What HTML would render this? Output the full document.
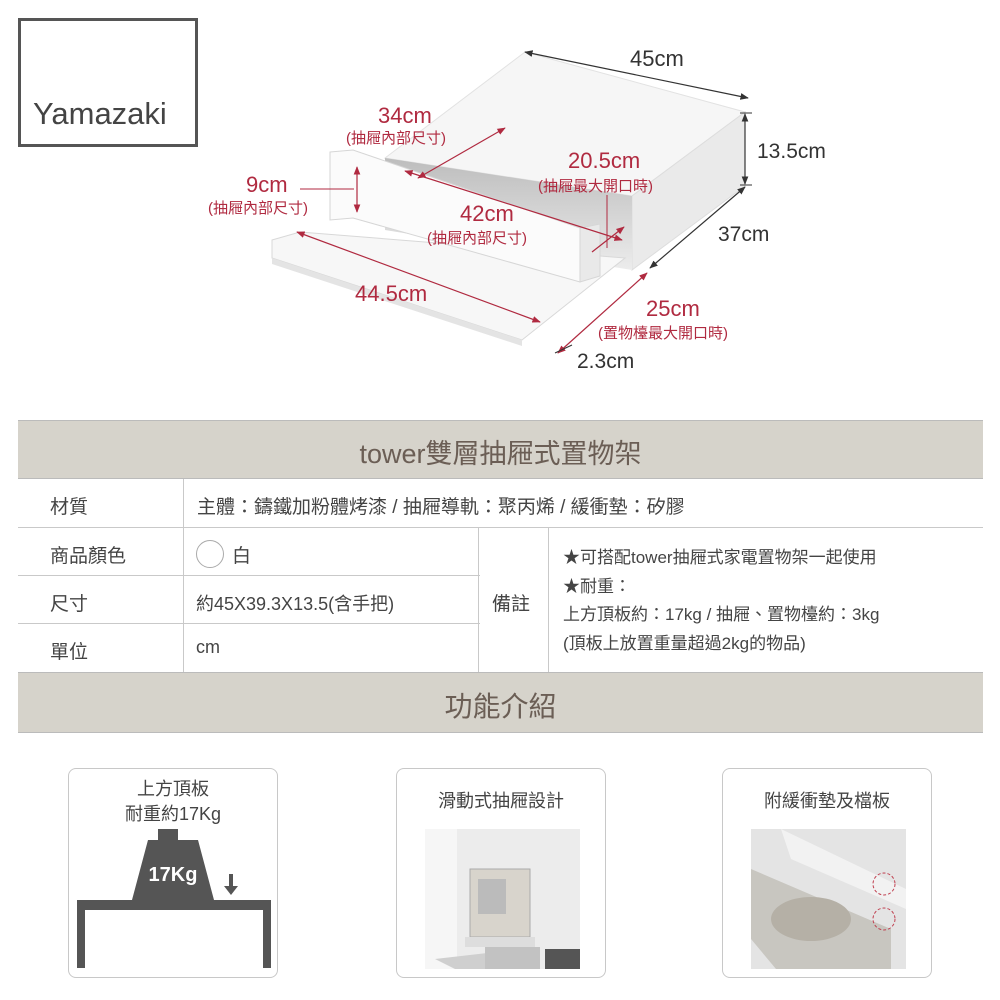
<!DOCTYPE html>
<html><head><meta charset="utf-8"><style>
*{margin:0;padding:0;box-sizing:border-box}
body{width:1000px;height:1000px;background:#fff;position:relative;overflow:hidden;font-family:"Liberation Sans","Noto Sans CJK TC",sans-serif;color:#444}
.a{position:absolute;white-space:nowrap}
.r{color:#b02a40}
.hl{position:absolute;background:#c9c9c9;height:1px}
.vl{position:absolute;background:#c9c9c9;width:1px}
.card{position:absolute;border:1px solid #c8c8c8;border-radius:8px;width:210px;height:210px;top:768px}
.ct{position:absolute;width:100%;text-align:center;font-size:18px;color:#444;line-height:25px}
</style></head><body>
<div class="a" style="left:18px;top:18px;width:180px;height:129px;border:3px solid #555"></div>
<div class="a" style="left:33px;top:96px;font-size:31px;color:#444">Yamazaki</div>

<svg class="a" style="left:0;top:0" width="1000" height="400">
<defs><marker id="ar" viewBox="0 0 10 10" refX="9" refY="5" markerWidth="7" markerHeight="7" orient="auto-start-reverse"><path d="M0,1 L10,5 L0,9 z" fill="#b02a40"/></marker>
<marker id="ak" viewBox="0 0 10 10" refX="9" refY="5" markerWidth="7" markerHeight="7" orient="auto-start-reverse"><path d="M0,1 L10,5 L0,9 z" fill="#333"/></marker>
<linearGradient id="g" x1="0" y1="0" x2="0" y2="1"><stop offset="0" stop-color="#bdbdbd"/><stop offset="1" stop-color="#ececec"/></linearGradient></defs>
<polygon points="525,52 745,112 632,196 385,158" fill="#f6f6f6" stroke="#e2e2e2"/>
<polygon points="745,112 745,186 632,270 632,196" fill="#eaeaea" stroke="#ddd"/>
<polygon points="385,158 632,196 632,270 385,230" fill="url(#g)"/>
<polygon points="272,240 300,232 625,258 522,340 272,258" fill="#f7f7f7" stroke="#d8d8d8"/>
<polygon points="272,258 522,340 522,346 272,264" fill="#e4e4e4"/>
<polygon points="330,152 353,150 580,228 580,282 353,218 330,220" fill="#fbfbfb" stroke="#d6d6d6"/>
<polygon points="580,228 600,224 600,276 580,282" fill="#e9e9e9" stroke="#d6d6d6"/>
<line x1="525" y1="52" x2="748" y2="98" stroke="#333" stroke-width="1.2" marker-start="url(#ak)" marker-end="url(#ak)"/>
<line x1="745" y1="114" x2="745" y2="184" stroke="#333" stroke-width="1.2" marker-start="url(#ak)" marker-end="url(#ak)"/>
<line x1="740" y1="113" x2="752" y2="113" stroke="#333"/><line x1="740" y1="185" x2="752" y2="185" stroke="#333"/>
<line x1="745" y1="187" x2="650" y2="268" stroke="#333" stroke-width="1.2" marker-start="url(#ak)" marker-end="url(#ak)"/>
<line x1="647" y1="273" x2="558" y2="353" stroke="#b02a40" stroke-width="1.2" marker-start="url(#ar)" marker-end="url(#ar)"/>
<line x1="555" y1="353" x2="572" y2="345" stroke="#333"/>
<line x1="418" y1="178" x2="505" y2="128" stroke="#b02a40" stroke-width="1.2" marker-start="url(#ar)" marker-end="url(#ar)"/>
<line x1="357" y1="167" x2="357" y2="212" stroke="#b02a40" stroke-width="1.2" marker-start="url(#ar)" marker-end="url(#ar)"/>
<line x1="300" y1="189" x2="354" y2="189" stroke="#b02a40" stroke-width="1"/>
<line x1="405" y1="171" x2="622" y2="240" stroke="#b02a40" stroke-width="1.2" marker-start="url(#ar)" marker-end="url(#ar)"/>
<line x1="607" y1="195" x2="607" y2="248" stroke="#b02a40" stroke-width="1"/>
<line x1="592" y1="252" x2="624" y2="227" stroke="#b02a40" stroke-width="1.2" marker-end="url(#ar)"/>
<line x1="297" y1="232" x2="540" y2="322" stroke="#b02a40" stroke-width="1.2" marker-start="url(#ar)" marker-end="url(#ar)"/>
</svg>
<div class="a" style="left:630px;top:46px;font-size:22px;color:#333">45cm</div>
<div class="a" style="left:757px;top:140px;font-size:21px;color:#333">13.5cm</div>
<div class="a" style="left:718px;top:223px;font-size:21px;color:#333">37cm</div>
<div class="a" style="left:577px;top:350px;font-size:21px;color:#333">2.3cm</div>
<div class="a r" style="left:378px;top:103px;font-size:22px">34cm</div>
<div class="a r" style="left:346px;top:127px;font-size:15px">(抽屜內部尺寸)</div>
<div class="a r" style="left:246px;top:172px;font-size:22px">9cm</div>
<div class="a r" style="left:208px;top:197px;font-size:15px">(抽屜內部尺寸)</div>
<div class="a r" style="left:568px;top:148px;font-size:22px">20.5cm</div>
<div class="a r" style="left:538px;top:175px;font-size:15px">(抽屜最大開口時)</div>
<div class="a r" style="left:460px;top:201px;font-size:22px">42cm</div>
<div class="a r" style="left:427px;top:227px;font-size:15px">(抽屜內部尺寸)</div>
<div class="a r" style="left:355px;top:281px;font-size:22px">44.5cm</div>
<div class="a r" style="left:646px;top:296px;font-size:22px">25cm</div>
<div class="a r" style="left:598px;top:322px;font-size:15px">(置物檯最大開口時)</div>

<!-- table -->
<div class="a" style="left:18px;top:420px;width:965px;height:59px;background:#d6d3cb;border-top:1px solid #bbb;border-bottom:1px solid #bbb"></div>
<div class="a" style="left:18px;top:432px;width:965px;text-align:center;font-size:27px;color:#6b5e55">tower雙層抽屜式置物架</div>
<div class="hl" style="left:18px;width:965px;top:527px"></div>
<div class="hl" style="left:18px;width:462px;top:575px"></div>
<div class="hl" style="left:18px;width:462px;top:623px"></div>
<div class="vl" style="left:183px;top:479px;height:193px"></div>
<div class="vl" style="left:478px;top:527px;height:145px"></div>
<div class="vl" style="left:548px;top:527px;height:145px"></div>
<div class="a" style="left:18px;top:672px;width:965px;height:61px;background:#d6d3cb;border-top:1px solid #bbb;border-bottom:1px solid #bbb"></div>
<div class="a" style="left:18px;top:685px;width:965px;text-align:center;font-size:28px;color:#6b5e55">功能介紹</div>
<div class="a" style="left:50px;top:492px;font-size:19px">材質</div>
<div class="a" style="left:197px;top:492px;font-size:19px">主體：鑄鐵加粉體烤漆 / 抽屜導軌：聚丙烯 / 緩衝墊：矽膠</div>
<div class="a" style="left:50px;top:541px;font-size:19px">商品顏色</div>
<div class="a" style="left:196px;top:540px;width:28px;height:28px;border:1px solid #aaa;border-radius:50%"></div>
<div class="a" style="left:232px;top:541px;font-size:19px">白</div>
<div class="a" style="left:50px;top:589px;font-size:19px">尺寸</div>
<div class="a" style="left:196px;top:590px;font-size:18px">約45X39.3X13.5(含手把)</div>
<div class="a" style="left:50px;top:637px;font-size:19px">單位</div>
<div class="a" style="left:196px;top:637px;font-size:18px">cm</div>
<div class="a" style="left:492px;top:589px;font-size:19px">備註</div>
<div class="a" style="left:563px;top:544px;font-size:17px;line-height:28.5px">★可搭配tower抽屜式家電置物架一起使用<br>★耐重：<br>上方頂板約：17kg / 抽屜、置物檯約：3kg<br>(頂板上放置重量超過2kg的物品)</div>

<!-- cards -->
<div class="card" style="left:68px">
<div class="ct" style="top:8px">上方頂板<br>耐重約17Kg</div>
<svg class="a" style="left:0;top:0" width="210" height="210">
<rect x="89" y="60" width="20" height="11" fill="#555"/>
<polygon points="79,71 129,71 145,131 63,131" fill="#555"/>
<text x="104" y="112" fill="#fff" font-size="20" font-weight="bold" text-anchor="middle" font-family="Liberation Sans">17Kg</text>
<rect x="160" y="105" width="4" height="12" fill="#555"/><polygon points="155,117 169,117 162,126" fill="#555"/>
<rect x="8" y="131" width="194" height="10" fill="#555"/>
<rect x="8" y="131" width="8" height="68" fill="#555"/><rect x="194" y="131" width="8" height="68" fill="#555"/>
</svg></div>
<div class="card" style="left:396px">
<div class="ct" style="top:20px">滑動式抽屜設計</div>
<svg class="a" style="left:28px;top:60px" width="155" height="140">
<rect width="155" height="140" fill="#ececec"/><rect x="0" width="32" height="140" fill="#f6f6f6"/>
<rect x="45" y="40" width="60" height="68" fill="#d8d4cc" stroke="#aaa"/><rect x="53" y="50" width="28" height="35" fill="#bbb"/>
<rect x="40" y="108" width="70" height="10" fill="#ddd"/>
<polygon points="10,130 115,118 115,140 30,140" fill="#cfcfcf"/><rect x="60" y="118" width="55" height="24" fill="#c2c2c2"/>
<rect x="120" y="120" width="35" height="20" fill="#555"/></svg></div>
<div class="card" style="left:722px">
<div class="ct" style="top:20px">附緩衝墊及檔板</div>
<svg class="a" style="left:28px;top:60px" width="155" height="140">
<rect width="155" height="140" fill="#e4e4e4"/>
<polygon points="30,0 155,60 155,80 40,30" fill="#f2f2f2"/>
<polygon points="0,40 140,100 140,140 25,140 0,110" fill="#c8c6c0"/>
<ellipse cx="60" cy="90" rx="40" ry="22" fill="#b5b0a6"/>
<circle cx="133" cy="55" r="11" fill="none" stroke="#c04050" stroke-dasharray="3,2"/>
<circle cx="133" cy="90" r="11" fill="none" stroke="#c04050" stroke-dasharray="3,2"/></svg></div>
</body></html>
